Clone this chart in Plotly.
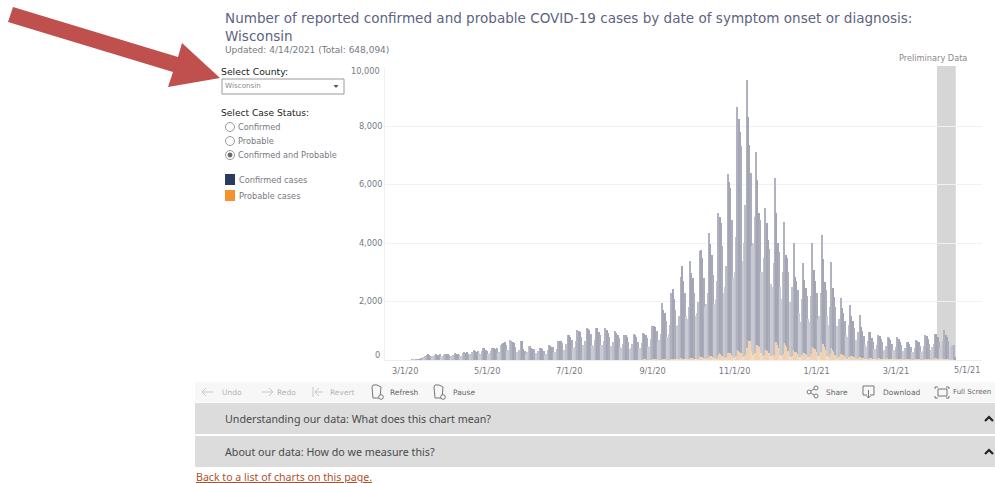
import plotly.graph_objects as go
import pandas as pd

start_date = "2020-03-01"
total_weeks = [
 [0,0,0,0,0,25,25],[30,30,35,40,50,70,90],[90,120,170,190,160,150,130],[130,160,190,180,170,190,140],
 [130,180,210,220,190,170,130],[140,180,230,210,190,170,120],[130,240,260,250,260,200,210],
 [210,270,340,300,280,320,230],[220,300,420,400,340,310,200],[230,300,420,410,390,400,240],
 [270,520,540,590,600,530,330],[350,680,660,620,570,430,280],[240,350,640,650,360,300,190],
 [260,490,470,420,390,380,250],[220,300,410,400,370,300,170],[200,340,520,470,440,430,280],
 [270,380,650,640,640,580,330],[340,560,850,840,790,700,420],[440,650,1040,1000,960,800,520],
 [500,660,1110,1070,1010,880,520],[480,700,1110,1090,970,850,510],[500,650,1080,1020,930,780,470],
 [450,620,980,930,860,760,460],[420,560,860,840,800,620,390],[400,560,880,860,800,620,400],
 [420,580,910,900,860,760,460],[480,720,1160,1150,1140,1000,640],[700,900,1950,1700,1600,1350,800],
 [900,1200,2290,2430,2100,1700,1150],[1200,1500,2840,3210,2700,2300,1500],[1400,1800,3380,2970,2800,2300,1500],
 [1600,2000,3730,3760,3500,2800,1800],[1900,2300,4340,3960,3600,2900,1900],[2100,2700,5020,4900,4680,3900,2300],
 [2500,3200,6360,6100,5880,4800,2800],[3000,4200,8650,8240,7800,7300,3400],[4000,5300,9570,8300,7350,6390,3900],
 [4000,4900,7110,6150,5020,4800,3000],[3000,3500,5200,4700,4100,3800,2600],[2500,3300,6220,5020,4000,3700,2500],
 [2100,3000,4720,3590,3490,3000,2000],[1900,2500,4000,2840,2700,2400,1600],[1300,2100,3320,2730,2460,2200,1400],
 [1300,2200,4000,3080,2700,2300,1400],[1500,2300,4270,3450,2650,2400,1500],[1200,1800,3350,2460,2150,1800,1150],
 [1000,1400,2120,1780,1600,1350,850],[800,1200,1880,1500,1350,1100,700],[620,950,1540,1130,1000,820,520],
 [430,640,960,960,760,620,380],[380,520,855,820,720,600,350],[350,480,790,750,680,560,330],
 [330,460,790,720,620,500,300],[280,420,615,610,560,430,260],[280,420,680,640,600,480,270],
 [320,480,855,810,730,560,350],[430,560,880,900,800,620,420],[520,640,1030,860,790,660,430],
 [400,520,510,100],
]
probable_weeks = [
 [0]*7,[0]*7,[0]*7,[0]*7,[0]*7,[0]*7,[0]*7,[0]*7,[0]*7,[0]*7,[0]*7,[0]*7,[0]*7,[0]*7,[0]*7,
 [0,0,5,5,5,5,0],[0,5,5,5,5,5,0],[5,5,10,10,10,10,5],[5,5,10,10,10,10,5],[5,5,15,15,15,10,5],
 [5,5,15,15,15,10,5],[5,5,15,15,15,10,5],[5,5,15,15,15,10,5],[5,5,15,15,15,10,5],[5,5,15,15,15,10,5],
 [5,10,20,20,20,15,5],[10,10,30,30,25,20,10],[10,15,40,35,35,30,15],[15,20,50,50,40,30,20],[20,30,60,70,50,40,20],
 [20,30,80,70,60,50,30],[30,40,120,110,90,70,40],[40,60,170,150,130,100,60],[50,70,180,230,200,150,70],
 [60,90,230,260,230,170,80],[90,130,340,300,270,230,110],[110,170,420,680,660,640,300],[180,250,510,520,480,430,230],
 [120,180,330,340,300,230,130],[120,170,620,600,520,410,170],[140,220,570,520,450,320,130],[100,150,330,290,260,210,110],
 [100,170,280,250,220,180,100],[110,220,440,400,360,280,130],[140,260,620,540,440,330,140],[100,200,420,330,260,180,80],
 [60,120,220,190,160,130,60],[50,100,150,140,120,100,50],[30,70,110,100,80,70,30],[20,50,70,70,60,50,20],
 [20,40,60,60,50,40,20],[20,30,60,50,50,40,20],[20,30,50,50,40,30,20],[15,25,40,40,35,25,15],[15,25,40,40,35,25,15],
 [15,25,50,50,40,30,15],[20,30,60,60,50,35,20],[20,30,50,50,40,30,15],[15,20,15,5],
]
total_cases = [v for w in total_weeks for v in w]
probable_cases = [v for w in probable_weeks for v in w]
confirmed_cases = [t - p for t, p in zip(total_cases, probable_cases)]
dates = pd.date_range(start_date, periods=len(total_cases)).strftime("%Y-%m-%d").tolist()

x_tick_dates = ["2020-03-01","2020-05-01","2020-07-01","2020-09-01","2020-11-01","2021-01-01","2021-03-01"]
x_tick_labels = ["3/1/20","5/1/20","7/1/20","9/1/20","11/1/20","1/1/21","3/1/21"]
y_ticks = [2000,4000,6000,8000]
y_labels = ["2,000","4,000","6,000","8,000"]
title_lines = ["Number of reported confirmed and probable COVID-19 cases by date of symptom onset or diagnosis:", "Wisconsin"]

W, H = 995, 483
def fx(x): return x / W
def fy(y): return 1 - y / H
FONT = "DejaVu Sans"
TXT = "#77797f"
shapes, annos = [], []

def text(x, y, s, size=9, color=TXT, anchor="left", family=FONT):
    annos.append(dict(x=fx(x), y=fy(y), xref="paper", yref="paper", text=s, showarrow=False,
                      xanchor=anchor, yanchor="middle", font=dict(size=size, color=color, family=family),
                      xshift=0, yshift=0, borderpad=0, borderwidth=0))
def rect(x0, y0, x1, y1, fill, line=None, lw=1):
    shapes.append(dict(type="rect", xref="paper", yref="paper", x0=fx(x0), x1=fx(x1), y0=fy(y0), y1=fy(y1),
                       fillcolor=fill, line=dict(color=line or fill, width=lw if line else 0), layer="below"))
def poly(points, fill=None, line=None, lw=1, closed=True):
    d = "M " + " L ".join(f"{fx(a):.5f},{fy(b):.5f}" for a, b in points) + (" Z" if closed else "")
    shapes.append(dict(type="path", xref="paper", yref="paper", path=d, fillcolor=fill or "rgba(0,0,0,0)",
                       line=dict(color=line or "rgba(0,0,0,0)", width=lw), layer="above"))
def circle(cx, cy, r, fill="#ffffff", line="#9a9a9a", lw=1):
    shapes.append(dict(type="circle", xref="paper", yref="paper", x0=fx(cx-r), x1=fx(cx+r), y0=fy(cy-r), y1=fy(cy+r),
                       fillcolor=fill, line=dict(color=line, width=lw), layer="above"))

# titles
text(224.5, 18, title_lines[0], size=13.55, color="#5c6480")
text(224.5, 36, title_lines[1], size=13.55, color="#5c6480")
text(225, 49.5, "Updated: 4/14/2021 (Total: 648,094)", size=9, color=TXT)
text(933, 58, "Preliminary Data", size=8.2, color="#8a8a8a", anchor="center")

# controls
text(221, 71.5, "Select County:", size=9.3, color="#222222")
rect(222, 79, 344, 94, "#ffffff", "#9a9a9a", 1)
text(225, 86, "Wisconsin", size=7.2, color="#8a8a8a")
poly([(333.5, 85), (338.5, 85), (336, 88)], fill="#555555")
text(221, 113, "Select Case Status:", size=9.1, color="#222222")
for yy, lab in [(127, "Confirmed"), (141, "Probable"), (155, "Confirmed and Probable")]:
    circle(230, yy, 4.5)
    text(238, yy, lab, size=8.2, color=TXT)
circle(230, 155, 2, fill="#666666", line="#666666")
rect(225, 174, 235, 185, "#2c3a60")
text(238.5, 179.5, "Confirmed cases", size=8.2, color=TXT)
rect(225, 190, 235, 201, "#f5922e")
text(238.5, 196, "Probable cases", size=8.2, color=TXT)

# edge axis labels
text(380, 70.5, "10,000", size=8.2, color=TXT, anchor="right")
text(380, 354.5, "0", size=8.2, color=TXT, anchor="right")
text(967, 370, "5/1/21", size=8.2, color=TXT, anchor="center")

# red arrow
poly([(13, 7), (178, 57), (182, 43), (220, 78), (168, 87), (173, 72), (8, 22)], fill="#c0504d")

# toolbar
rect(195, 382, 995, 402, "#f7f7f7")
rect(195, 403, 995, 434, "#dcdcdc")
rect(195, 436, 995, 467, "#dcdcdc")
G1, G2 = "#c8c8c8", "#777777"
for xa, lab, xt in [(0, "Undo", 222), (1, "Redo", 277)]:
    x0 = 202 if xa == 0 else 262
    poly([(x0, 392), (x0+11, 392)], line=G1, closed=False)
    if xa == 0:
        poly([(x0+4, 388), (x0, 392), (x0+4, 396)], line=G1, closed=False)
    else:
        poly([(x0+7, 388), (x0+11, 392), (x0+7, 396)], line=G1, closed=False)
    text(xt, 392, lab, size=7.5, color="#b4b4b4")
poly([(313, 387), (313, 397)], line=G1, closed=False)
poly([(315, 392), (323, 392)], line=G1, closed=False)
poly([(319, 388), (315, 392), (319, 396)], line=G1, closed=False)
text(330, 392, "Revert", size=7.5, color="#b4b4b4")
for x0, lab, xt in [(372, "Refresh", 390), (434, "Pause", 453)]:
    poly([(x0, 387), (x0+1, 398), (x0+8, 398), (x0+9, 387), (x0+5, 385), (x0+1, 385)], line=G2, closed=True)
    circle(x0+9, 397, 2.3, line=G2)
    text(xt, 392, lab, size=7.5, color="#666666")
circle(809, 392, 2, line=G2)
circle(816, 388, 2, line=G2)
circle(816, 396, 2, line=G2)
poly([(811, 391), (814, 389)], line=G2, closed=False)
poly([(811, 393), (814, 395)], line=G2, closed=False)
text(826, 392, "Share", size=7.5, color="#666666")
poly([(867, 395), (863, 395), (863, 386), (874, 386), (874, 395), (870, 395)], line=G2, closed=False)
poly([(868.5, 390), (868.5, 398)], line=G2, closed=False)
poly([(866.5, 396), (868.5, 398), (870.5, 396)], line=G2, closed=False)
text(883, 392, "Download", size=7.5, color="#666666")
rect(938, 389, 947, 396, "#f7f7f7", G2, 1)
poly([(935, 389), (935, 387), (938, 387)], line=G2, closed=False)
poly([(946, 387), (949, 387), (949, 389)], line=G2, closed=False)
poly([(935, 396), (935, 398), (938, 398)], line=G2, closed=False)
poly([(946, 398), (949, 398), (949, 396)], line=G2, closed=False)
text(953, 392, "Full Screen", size=7, color="#666666")

text(224.5, 418.5, "Understanding our data: What does this chart mean?", size=10.7, color="#4a4a4a", family="Noto Sans")
text(224.5, 451.5, "About our data: How do we measure this?", size=10.7, color="#4a4a4a", family="Noto Sans")
for cy in (418, 451):
    poly([(985, cy+3), (989, cy-1), (993, cy+3)], line="#222222", lw=2.2, closed=False)
text(196, 477, "<u>Back to a list of charts on this page.</u>", size=10.6, color="#b0502c", family="Noto Sans")

# preliminary band, tied to the date axis
shapes.append(dict(type="rect", xref="x", yref="paper", x0="2021-03-31T12:00:00", x1="2021-04-14T12:00:00",
                   y0=fy(360), y1=fy(66), fillcolor="#d6d6d6", line=dict(width=0), layer="below"))

# the weekly low days read lighter than the working-day bars in the reference
weekday_colors = ["#c9cad2", "#bdbfc9", "#b0b2bf", "#a4a6b5", "#a4a6b5", "#abadbb", "#c9cad2"]
bar_colors = [weekday_colors[i % 7] for i in range(len(dates))]
peach_colors = ["#f3dcc2", "#f1d6b8", "#f0d2b2", "#f0d2b2", "#f0d2b2", "#f1d6b8", "#f3dcc2"]
prob_colors = [peach_colors[i % 7] for i in range(len(dates))]

fig = go.Figure()
fig.add_bar(x=dates, y=probable_cases, name="Probable cases", marker=dict(color=prob_colors, line=dict(width=0)))
fig.add_bar(x=dates, y=confirmed_cases, name="Confirmed cases", marker=dict(color=bar_colors, line=dict(width=0)))
fig.update_layout(
    width=W, height=H, margin=dict(l=0, r=0, t=0, b=0), barmode="stack", bargap=0.12,
    paper_bgcolor="#ffffff", plot_bgcolor="rgba(0,0,0,0)", showlegend=False,
    shapes=shapes, annotations=annos, font=dict(family=FONT, size=8.2, color=TXT),
    xaxis=dict(domain=[fx(385), fx(982)], type="date", range=["2020-02-15", "2021-05-04"],
               tickvals=x_tick_dates, ticktext=x_tick_labels, showgrid=False, ticks="", ticklen=0,
               showline=True, linecolor="#eeeeee", zeroline=False, tickangle=0, ticklabelstandoff=3,
               tickfont=dict(size=8.2, color=TXT, family=FONT)),
    yaxis=dict(domain=[fy(360), fy(67.5)], range=[0, 10000], tickvals=y_ticks, ticktext=y_labels,
               gridcolor="#f1f1f1", gridwidth=1, showline=True, linecolor="#f0f0f0", zeroline=False,
               ticks="", tickfont=dict(size=8.2, color=TXT, family=FONT)),
)
fig.write_html("out.html", config=dict(displayModeBar=False),
               post_script="document.body.style.margin='0';document.documentElement.style.overflow='hidden';")
